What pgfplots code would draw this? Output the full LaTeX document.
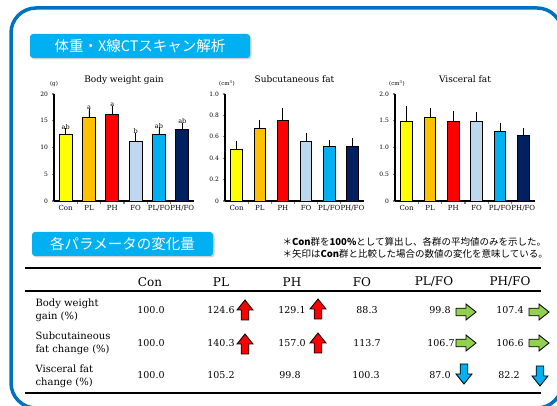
\documentclass[border=0pt]{standalone}
\usepackage{pgfplots}
\pgfplotsset{compat=1.18}
\usepackage{pgfplotstable}
\usepackage{fontspec}
\setmainfont{DejaVu Serif}
\newfontfamily\jp{Noto Sans CJK JP}
\usetikzlibrary{shadows}

\definecolor{frameblue}{RGB}{0,112,192}
\definecolor{hdr}{RGB}{0,176,240}
\definecolor{c0}{RGB}{255,255,0}
\definecolor{c1}{RGB}{255,192,0}
\definecolor{c2}{RGB}{255,0,0}
\definecolor{c3}{RGB}{189,215,238}
\definecolor{c4}{RGB}{0,176,240}
\definecolor{c5}{RGB}{0,32,96}
\definecolor{upred}{RGB}{255,0,0}
\definecolor{flatgreen}{RGB}{146,208,80}
\definecolor{downblue}{RGB}{0,176,240}

% body weight gain (g)
\pgfplotstableread{
x y err lab
0 12.5 0.6 ab
1 15.6 1.2 a
2 16.2 1.1 a
3 11.1 1.2 b
4 12.4 0.9 ab
5 13.4 0.7 ab
}\gaintab

% subcutaneous fat (cm3)
\pgfplotstableread{
x y err
0 0.480 0.058
1 0.676 0.062
2 0.757 0.093
3 0.555 0.056
4 0.514 0.034
5 0.514 0.050
}\subtab

% visceral fat (cm3)
\pgfplotstableread{
x y err
0 1.495 0.235
1 1.564 0.124
2 1.495 0.135
3 1.495 0.115
4 1.296 0.124
5 1.220 0.090
}\vistab

\pgfplotsset{
  panel/.style={
    scale only axis, width=140pt, height=107pt, anchor=south west,
    xmin=-0.5, xmax=5.5, ymin=0,
    axis x line*=bottom, axis y line*=left,
    axis line style={line width=1.3pt},
    xtick={0,...,5}, xticklabels={Con,PL,PH,FO,PL/FO,PH/FO},
    minor xtick={0.5,1.5,...,4.5},
    major x tick style={draw=none},
    minor x tick style={line width=1.2pt},
    minor tick length=3pt, major tick length=2.5pt,
    ytick style={line width=1.1pt},
    tick align=outside,
    xticklabel style={font=\fontsize{7}{8}\selectfont, inner sep=1.5pt},
    yticklabel style={font=\fontsize{6}{7}\selectfont},
    clip=false,
  },
  colbar/.style={ybar, bar shift=0pt, draw=black, line width=0.9pt, fill=#1,
    /pgfplots/error bars/y dir=plus, /pgfplots/error bars/y explicit,
    /pgfplots/error bars/error bar style={line width=0.9pt, black},
    /pgfplots/error bars/error mark options={black, line width=0.9pt, mark size=2.5pt}},
}

\newcommand{\bars}[2]{%
  \pgfplotsinvokeforeach{0,...,5}{%
    \addplot[colbar=c##1, bar width=#2, restrict x to domain=##1:##1]
      table[x=x, y=y, y error=err]{#1};
  }}

\tikzset{arr/.pic={\draw[line width=0.8pt, fill=#1]
  (-3.8,-10) -- (3.8,-10) -- (3.8,0) -- (8,0) -- (0,10) -- (-8,0) -- (-3.8,0) -- cycle;}}

\begin{document}
\begin{tikzpicture}[x=1pt,y=1pt]
\useasboundingbox (0,0) rectangle (557,406);
\begin{scope}
  \clip (0,0) rectangle (557,406);
  \draw[line width=3.5pt, frameblue, rounded corners=25pt] (11,-2) rectangle (562,398);
\end{scope}

% section headers
\node[fill=hdr, rounded corners=3pt, minimum width=220pt, minimum height=24pt, inner sep=0pt,
  drop shadow={shadow xshift=1.5pt, shadow yshift=-1.5pt, opacity=0.35},
  text=white, font=\jp\fontsize{14.5}{16}\selectfont] at (140,360) {体重・X線CTスキャン解析};
\node[fill=hdr, rounded corners=3pt, minimum width=181pt, minimum height=24pt, inner sep=0pt,
  drop shadow={shadow xshift=1.5pt, shadow yshift=-1.5pt, opacity=0.35},
  text=white, font=\jp\fontsize{14.5}{16}\selectfont] at (122.5,162) {各パラメータの変化量};

% chart 1
\begin{axis}[panel, at={(54pt,205pt)}, ymax=20, ytick={0,5,...,20}, yticklabels={0,5,10,15,20}]
  \bars{\gaintab}{13pt}
  \addplot[draw=none, mark=none, nodes near coords, point meta=explicit symbolic,
    nodes near coords style={font=\fontsize{6.5}{7}\selectfont, anchor=south, inner sep=1.5pt}]
    table[x=x, y expr=\thisrow{y}+\thisrow{err}, meta=lab]{\gaintab};
  \node[font=\fontsize{9}{10}\selectfont, anchor=base] at (rel axis cs:0.5,1) [yshift=11pt] {Body weight gain};
  \node[font=\fontsize{5.5}{6}\selectfont, anchor=south] at (rel axis cs:0,1) [yshift=4pt] {(g)};
\end{axis}

% chart 2
\begin{axis}[panel, at={(225pt,205pt)}, width=139pt, ymax=1, ytick={0,0.2,...,1.0},
  yticklabels={0,0.2,0.4,0.6,0.8,1.0}]
  \bars{\subtab}{11.5pt}
  \node[font=\fontsize{9}{10}\selectfont, anchor=base] at (rel axis cs:0.5,1) [yshift=11pt] {Subcutaneous fat};
  \node[font=\fontsize{5.5}{6}\selectfont, anchor=south] at (rel axis cs:0,1) [yshift=4pt, xshift=2pt] {(cm\textsuperscript{3})};
\end{axis}

% chart 3
\begin{axis}[panel, at={(395pt,205pt)}, ymax=2, ytick={0,0.5,...,2.0},
  yticklabels={0,0.5,1.0,1.5,2.0}]
  \bars{\vistab}{11.5pt}
  \node[font=\fontsize{9}{10}\selectfont, anchor=base] at (rel axis cs:0.5,1) [yshift=11pt] {Visceral fat};
  \node[font=\fontsize{5.5}{6}\selectfont, anchor=south] at (rel axis cs:0,1) [yshift=4pt, xshift=2pt] {(cm\textsuperscript{3})};
\end{axis}

% notes
\node[anchor=west, font=\jp\fontsize{9.5}{11}\selectfont] at (279,164)
  {＊\textbf{Con}群を\textbf{100\%}として算出し、各群の平均値のみを示した。};
\node[anchor=west, font=\jp\fontsize{9.5}{11}\selectfont] at (279,152)
  {＊矢印は\textbf{Con}群と比較した場合の数値の変化を意味している。};

% table rules
\draw[line width=1.8pt] (25,138) -- (541,138);
\draw[line width=1.4pt] (25,115) -- (541,115);
\draw[line width=1.8pt] (25,13) -- (541,13);

% header row
\begin{scope}[every node/.style={font=\fontsize{12}{13}\selectfont}]
  \node at (150,124) {Con};
  \node at (221,124) {PL};
  \node at (292,124) {PH};
  \node at (362,124) {FO};
  \node at (434,124) {PL/FO};
  \node at (510,124) {PH/FO};
\end{scope}

% row labels
\begin{scope}[every node/.style={anchor=west, align=left, font=\fontsize{10}{13}\selectfont}]
  \node at (32,96) {Body weight\\gain (\%)};
  \node at (32,63) {Subcutaineous\\fat change (\%)};
  \node at (32,30) {Visceral fat\\change (\%)};
\end{scope}

% values
\begin{scope}[every node/.style={font=\fontsize{9.5}{10}\selectfont}]
  \node at (151,96) {100.0}; \node at (221,96) {124.6}; \node at (292,96) {129.1};
  \node at (367,96) {88.3};  \node at (440,96) {99.8};  \node at (510,96) {107.4};
  \node at (151,63) {100.0}; \node at (221,63) {140.3}; \node at (292,63) {157.0};
  \node at (367,63) {113.7}; \node at (441,63) {106.7}; \node at (510,63) {106.6};
  \node at (151,31) {100.0}; \node at (221,31) {105.2}; \node at (290,31) {99.8};
  \node at (366,31) {100.3}; \node at (440,31) {87.0};  \node at (509,31) {82.2};
\end{scope}

% arrows
\pic at (245,96) {arr=upred};
\pic at (318,97) {arr=upred};
\pic at (245,62) {arr=upred};
\pic at (318,63) {arr=upred};
\pic[rotate=-90] at (466,94) {arr=flatgreen};
\pic[rotate=-90] at (539,94) {arr=flatgreen};
\pic[rotate=-90] at (466,63) {arr=flatgreen};
\pic[rotate=-90] at (539,63) {arr=flatgreen};
\pic[rotate=180] at (464,32) {arr=downblue};
\pic[rotate=180] at (540,30) {arr=downblue};
\end{tikzpicture}
\end{document}
